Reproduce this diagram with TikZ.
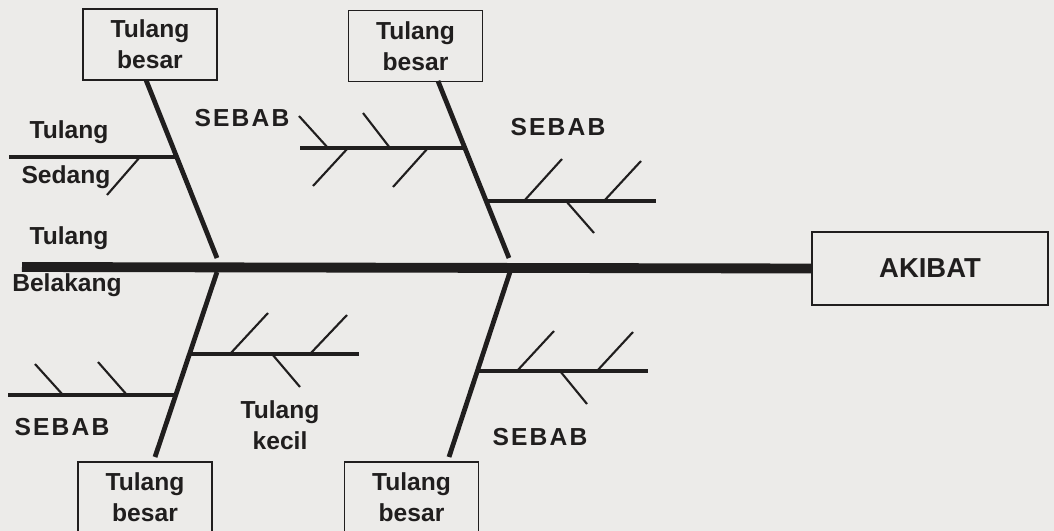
\documentclass[tikz,border=0pt]{standalone}
\usepackage{fontspec}
\setmainfont{Liberation Sans}
\definecolor{paper}{RGB}{236,235,233}
\definecolor{ink}{RGB}{32,30,30}
\newcommand{\spaced}[1]{\addfontfeatures{LetterSpace=9}#1}
\tikzset{
  spine/.style={line width=7pt, draw=ink},
  bone/.style={line width=3.4pt, draw=ink},
  branch/.style={line width=2.8pt, draw=ink},
  twig/.style={line width=1.5pt, draw=ink},
  bonebox/.style={draw=ink, line width=1.2pt, align=center, inner sep=0pt,
    minimum width=3.35cm, minimum height=1.78cm,
    font=\fontsize{17.5}{22}\selectfont\bfseries, text=ink},
  lbl/.style={align=center, inner sep=0pt,
    font=\fontsize{17.5}{22}\selectfont\bfseries, text=ink},
}
\begin{document}
\begin{tikzpicture}[x=0.025cm, y=-0.025cm]
    % Paper
    \fill[paper] (0,0) rectangle (1054,531);
    \useasboundingbox (0,0) rectangle (1054,531);
    \clip (0,0) rectangle (1054,531);

    % Head and the four big boxes
    \node[bonebox, minimum width=5.9cm, minimum height=1.83cm,
          font=\fontsize{19.5}{22}\selectfont\bfseries] (akibat) at (930,268.5) {AKIBAT};
    \node[bonebox] (tl) at (150,44.5) {Tulang\\besar};
    \node[bonebox] (tm) at (415.5,46) {Tulang\\besar};
    \node[bonebox] (bl) at (145,497.5) {Tulang\\besar};
    \node[bonebox] (bm) at (411.5,497.5) {Tulang\\besar};

    % Backbone
    \coordinate (tail) at (22,267);
    \draw[spine] (tail) -- (akibat.west);

    % Big bones
    \coordinate (tltop) at (146,80);   \coordinate (tlfoot) at (217,258);
    \coordinate (tmtop) at (438,81);   \coordinate (tmfoot) at (509,258);
    \coordinate (bltop) at (217,272);  \coordinate (blfoot) at (155,457);
    \coordinate (bmtop) at (510,272);  \coordinate (bmfoot) at (449,457);
    \draw[bone] (tltop) -- (tlfoot);
    \draw[bone] (tmtop) -- (tmfoot);
    \draw[bone] (bltop) -- (blfoot);
    \draw[bone] (bmtop) -- (bmfoot);

    % Middle bones
    \draw[branch] (9,157) -- (177,157);
    \draw[branch] (300,148) -- (465,148);
    \draw[branch] (486,201) -- (656,201);
    \draw[branch] (8,395) -- (176,395);
    \draw[branch] (190,354) -- (359,354);
    \draw[branch] (478,371) -- (648,371);

    % Small bones
    \draw[twig] (140,157) -- (107,195);
    \draw[twig] (299,116) -- (328,148);
    \draw[twig] (363,113) -- (390,148);
    \draw[twig] (348,148) -- (313,186);
    \draw[twig] (428,148) -- (393,187);
    \draw[twig] (524,201) -- (562,159);
    \draw[twig] (604,201) -- (641,161);
    \draw[twig] (566,201) -- (594,233);
    \draw[twig] (35,364) -- (63,395);
    \draw[twig] (98,362) -- (127,395);
    \draw[twig] (230,354) -- (268,313);
    \draw[twig] (310,354) -- (347,315);
    \draw[twig] (272,354) -- (300,387);
    \draw[twig] (517,371) -- (554,331);
    \draw[twig] (597,371) -- (633,332);
    \draw[twig] (560,371) -- (587,404);

    % Labels
    \node[lbl] (sedang1) at (69,132) {Tulang};
    \node[lbl] (sedang2) at (66,177) {Sedang};
    \node[lbl] (blk1) at (69,238) {Tulang};
    \node[lbl] (blk2) at (67,285) {Belakang};
    \node[lbl] (kecil) at (280,425) {Tulang\\kecil};
    \node[lbl] (sebab1) at (242,118) {\spaced{SEBAB}};
    \node[lbl] (sebab2) at (558,127) {\spaced{SEBAB}};
    \node[lbl] (sebab3) at (62,427) {\spaced{SEBAB}};
    \node[lbl] (sebab4) at (540,437) {\spaced{SEBAB}};
\end{tikzpicture}
\end{document}
